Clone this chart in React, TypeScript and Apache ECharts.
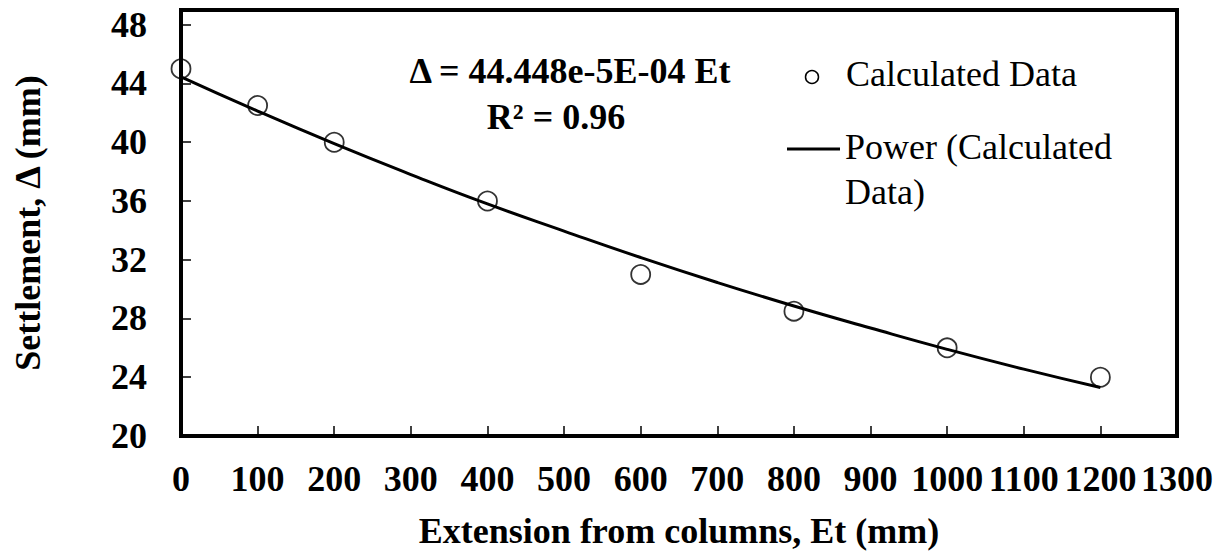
import React, { useEffect, useRef } from "react";
import * as echarts from "echarts";

const xData = [0, 100, 200, 400, 600, 800, 1000, 1200];
const yData = [45, 42.5, 40, 36, 31, 28.5, 26, 24];
const trendX = [0, 100, 200, 300, 400, 500, 600, 700, 800, 900, 1000, 1100, 1200];
const trendY = [44.45, 42.12, 39.9, 37.8, 35.8, 33.95, 32.15, 30.45, 28.85, 27.35, 25.9, 24.55, 23.3];
const equationLines = ["Δ = 44.448e-5E-04 Et", "R² = 0.96"];
const legendNames = ["Calculated Data", "Power (Calculated", "Data)"];
const xTitle = "Extension from columns, Et (mm)";
const yTitle = "Settlement, Δ (mm)";

const FONT = "'Liberation Serif', 'Times New Roman', serif";

export default function App() {
  const ref = useRef<HTMLDivElement>(null);
  useEffect(() => {
    if (!ref.current) return;
    const chart = echarts.init(ref.current, null, { renderer: "svg" });
    const labelStyle = { fontFamily: FONT, fontSize: 36, fontWeight: "bold" as const, color: "#000" };
    chart.setOption({
      animation: false,
      backgroundColor: "#fff",
      grid: {
        left: 181,
        right: 52,
        top: 10,
        bottom: 117,
        show: true,
        borderColor: "#000",
        borderWidth: 4,
        containLabel: false,
      },
      xAxis: {
        type: "value",
        min: 0,
        max: 1300,
        interval: 100,
        name: xTitle,
        nameLocation: "middle",
        nameGap: 77,
        nameTextStyle: labelStyle,
        axisLine: { show: true, lineStyle: { color: "#000", width: 4 } },
        axisTick: { show: true, inside: true, length: 10, lineStyle: { color: "#000", width: 1.5 } },
        axisLabel: {
          ...labelStyle,
          margin: 25,
          showMinLabel: true,
          showMaxLabel: true,
          hideOverlap: false,
          formatter: (v: number) => String(v),
        },
        splitLine: { show: false },
      },
      yAxis: {
        type: "value",
        min: 20,
        max: 49,
        interval: 4,
        name: yTitle,
        nameLocation: "middle",
        nameRotate: 90,
        nameGap: 135,
        nameTextStyle: labelStyle,
        axisLine: { show: true, lineStyle: { color: "#000", width: 4 } },
        axisTick: { show: true, inside: true, length: 10, lineStyle: { color: "#000", width: 1.5 } },
        axisLabel: {
          ...labelStyle,
          margin: 34,
          showMaxLabel: false,
          formatter: (v: number) => String(v),
        },
        splitLine: { show: false },
      },
      series: [
        {
          name: "Power (Calculated Data)",
          type: "line",
          data: trendX.map((x, i) => [x, trendY[i]]),
          smooth: true,
          showSymbol: false,
          lineStyle: { color: "#000", width: 3 },
          z: 2,
        },
        {
          name: "Calculated Data",
          type: "scatter",
          data: xData.map((x, i) => [x, yData[i]]),
          symbol: "circle",
          symbolSize: 19,
          itemStyle: { color: "transparent", borderColor: "#000", borderWidth: 1.8 },
          z: 3,
        },
      ],
      graphic: [
        {
          type: "text",
          x: 570,
          y: 71,
          style: { text: equationLines[0], fill: "#000", align: "center", verticalAlign: "middle", font: `bold 36px ${FONT}` },
        },
        {
          type: "text",
          x: 556,
          y: 117,
          style: { text: equationLines[1], fill: "#000", align: "center", verticalAlign: "middle", font: `bold 36px ${FONT}` },
        },
        {
          type: "circle",
          shape: { cx: 812, cy: 77, r: 6.5 },
          style: { fill: "none", stroke: "#000", lineWidth: 1.5 },
        },
        {
          type: "text",
          x: 846,
          y: 74,
          style: { text: legendNames[0], fill: "#000", align: "left", verticalAlign: "middle", font: `36px ${FONT}` },
        },
        {
          type: "line",
          shape: { x1: 787, y1: 149, x2: 840, y2: 149 },
          style: { stroke: "#000", lineWidth: 3 },
        },
        {
          type: "text",
          x: 845,
          y: 147,
          style: { text: legendNames[1], fill: "#000", align: "left", verticalAlign: "middle", font: `36px ${FONT}` },
        },
        {
          type: "text",
          x: 845,
          y: 192,
          style: { text: legendNames[2], fill: "#000", align: "left", verticalAlign: "middle", font: `36px ${FONT}` },
        },
      ],
    });
    return () => chart.dispose();
  }, []);
  return <div ref={ref} style={{ width: 1229, height: 554, position: "absolute", left: 0, top: 0 }} />;
}
